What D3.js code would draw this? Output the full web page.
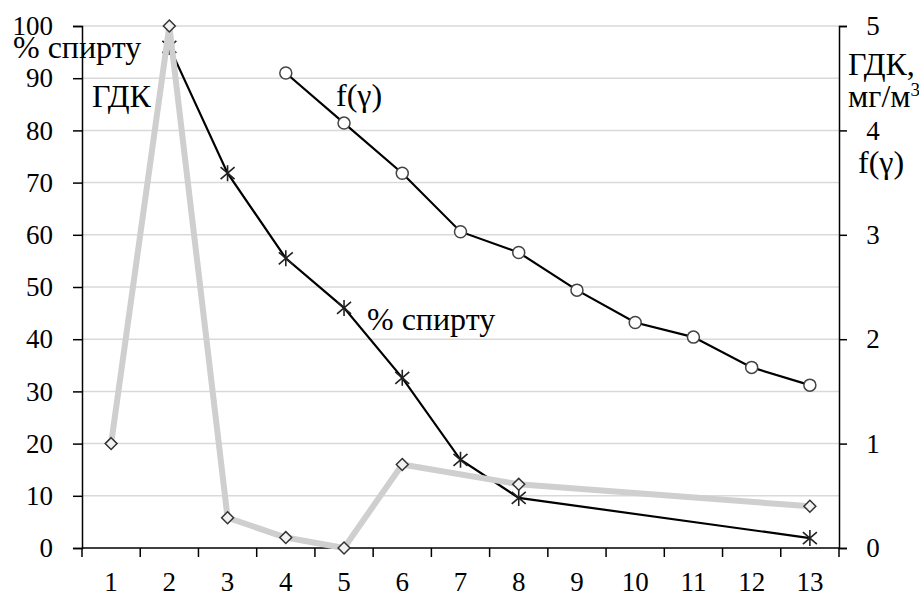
<!DOCTYPE html>
<html>
<head>
<meta charset="utf-8">
<script src="https://cdn.jsdelivr.net/npm/d3@7"></script>
</head>
<body style="margin:0">
<script>
// категорії по осі X
var cats = [1, 2, 3, 4, 5, 6, 7, 8, 9, 10, 11, 12, 13];
// % спирту (ліва вісь), пропуски = null
var spirt = [null, 96, 71.8, 55.5, 46, 32.6, 16.9, 9.6, null, null, null, null, 1.9];
// f(γ) (права вісь)
var fgamma = [null, null, null, 4.55, 4.07, 3.59, 3.03, 2.83, 2.47, 2.16, 2.02, 1.73, 1.56];
// ГДК, мг/м3 (права вісь)
var gdk = [1.0, 5.0, 0.29, 0.1, 0.0, 0.8, null, 0.61, null, null, null, null, 0.4];
var leftTicks = [0, 10, 20, 30, 40, 50, 60, 70, 80, 90, 100];
var rightTicks = [0, 1, 2, 3, 4, 5];

var width = 919, height = 596;
var margin = {left: 82, right: 80, top: 26, bottom: 48};
var FONT = "Tinos";

var svg = d3.select("body").append("svg")
    .attr("width", width).attr("height", height);

var x = d3.scaleBand().domain(cats)
    .range([margin.left, width - margin.right]);
var yL = d3.scaleLinear().domain([0, 100]).range([height - margin.bottom, margin.top]);
var yR = d3.scaleLinear().domain([0, 5]).range([height - margin.bottom, margin.top]);

// сітка
svg.append("g").selectAll("line").data(leftTicks.slice(1)).enter().append("line")
    .attr("x1", margin.left).attr("x2", width - margin.right)
    .attr("y1", d => yL(d)).attr("y2", d => yL(d))
    .attr("stroke", "#d9d9d9").attr("stroke-width", 1.5);

// осі
var axL = svg.append("g").attr("transform", "translate(" + margin.left + ",0)")
    .call(d3.axisLeft(yL).tickValues(leftTicks).tickSize(9).tickPadding(20));
var axR = svg.append("g").attr("transform", "translate(" + (width - margin.right) + ",0)")
    .call(d3.axisRight(yR).tickValues(rightTicks).tickFormat(d3.format("d")).tickSize(8).tickPadding(20));
var axB = svg.append("g").attr("transform", "translate(0," + (height - margin.bottom) + ")")
    .call(d3.axisBottom(x).tickSize(0).tickPadding(24));

[axL, axR, axB].forEach(function(a) {
    a.attr("font-family", FONT);
    a.select(".domain").attr("stroke", "#000").attr("stroke-width", 1.5);
    a.selectAll(".tick line").attr("stroke", "#000").attr("stroke-width", 1.5);
    a.selectAll("text").attr("font-size", 27).attr("fill", "#000")
        .attr("font-family", FONT).style("font-family", FONT);
});
axR.selectAll("text").attr("text-anchor", "middle").attr("dx", 6);
axB.select(".domain").attr("d", "M" + margin.left + ",0H" + (width - margin.right));

// засічки між категоріями
svg.append("g").selectAll("line").data(d3.range(cats.length + 1)).enter().append("line")
    .attr("x1", i => margin.left + i * x.step()).attr("x2", i => margin.left + i * x.step())
    .attr("y1", height - margin.bottom).attr("y2", height - margin.bottom + 9)
    .attr("stroke", "#000").attr("stroke-width", 1.5);

function pts(arr, sc) {
    var r = [];
    arr.forEach(function(v, i) {
        if (v !== null) r.push([x(cats[i]) + x.bandwidth() / 2, sc(v)]);
    });
    return r;
}
var line = d3.line();

var pS = pts(spirt, yL), pF = pts(fgamma, yR), pG = pts(gdk, yR);

svg.append("path").attr("d", line(pS)).attr("fill", "none")
    .attr("stroke", "#000").attr("stroke-width", 2.2);
// зірочки
var star = svg.append("g").selectAll("g").data(pS).enter().append("g")
    .attr("transform", d => "translate(" + d[0] + "," + d[1] + ")");
star.append("path").attr("d", "M-7,-6L7,6M-7,6L7,-6M0,-8L0,8")
    .attr("stroke", "#222").attr("stroke-width", 1.6).attr("fill", "none");

svg.append("path").attr("d", line(pF)).attr("fill", "none")
    .attr("stroke", "#000").attr("stroke-width", 2.2);
svg.append("g").selectAll("circle").data(pF).enter().append("circle")
    .attr("cx", d => d[0]).attr("cy", d => d[1]).attr("r", 6)
    .attr("fill", "#fff").attr("stroke", "#444").attr("stroke-width", 1.5);

svg.append("path").attr("d", line(pG)).attr("fill", "none")
    .attr("stroke", "#cfcfcf").attr("stroke-width", 6).attr("stroke-linejoin", "round");
svg.append("g").selectAll("path").data(pG).enter().append("path")
    .attr("d", d3.symbol().type(d3.symbolDiamond2).size(90))
    .attr("transform", d => "translate(" + d[0] + "," + d[1] + ")")
    .attr("fill", "#f2f2f2").attr("stroke", "#333").attr("stroke-width", 1.5);

// підписи
function lbl(t, xx, yy) {
    return svg.append("text").attr("x", xx).attr("y", yy).attr("font-size", 32)
        .attr("font-family", FONT).style("font-family", FONT).text(t);
}
lbl("% спирту", 13, 58);
lbl("ГДК", 92, 107);
lbl("f(γ)", 336, 106);
lbl("% спирту", 367, 330);
lbl("ГДК,", 848, 75);
var mg = lbl("мг/м", 848, 107);
mg.append("tspan").attr("font-size", 19).attr("dy", -11).text("3");
lbl("f(γ)", 858, 173);
</script>
</body>
</html>
